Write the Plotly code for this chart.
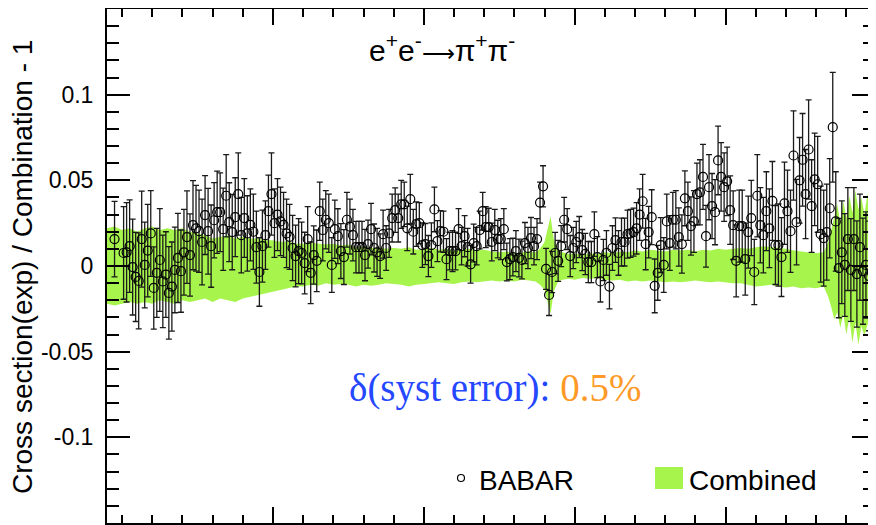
import plotly.graph_objects as go

# ---------------- data ----------------
energy_mev = [
    495, 501, 503, 505, 507, 509, 511, 513, 515, 517, 519, 521, 523, 525, 527, 529, 531, 533, 535, 537,
    539, 541, 543, 545, 547, 549, 551, 553, 555, 557, 559, 561, 563, 565, 567, 569, 571, 573,
    575, 577, 579, 581, 583, 585, 587, 589, 591, 593, 595, 597, 599, 601, 603, 605, 607, 609, 611, 613,
    615, 617, 619, 621, 623, 625, 627, 629, 631, 633, 635, 637, 639, 641, 643, 645, 647, 649, 651, 653,
    655, 657, 659, 661,
    663, 665, 667, 669, 671, 673, 675, 677, 679, 681, 683, 685, 687, 689, 691, 693, 695, 697, 699, 701,
    703, 705, 707, 709, 711, 713, 715, 717, 719, 721, 723, 725, 727, 729, 731, 733, 735, 737, 739, 741,
    743, 745,
    747, 749, 751, 753, 755, 757, 759, 761, 763, 765, 767, 769, 771, 773, 775, 777, 779, 781, 783, 785,
    787, 789, 791, 793, 795, 797, 799, 801, 803, 805, 807, 809, 811, 813, 815, 817, 819, 821, 823, 825, 827,
    829, 831, 833, 835, 837, 839, 841, 843, 845, 847, 849, 851, 853, 855, 857, 859, 861, 863, 865, 867,
    869, 871, 873, 875, 877, 879, 881, 883, 885, 887, 889, 891, 893, 895, 897, 899, 901, 903, 905, 907,
    909, 911, 913,
    915, 917, 919, 921, 923, 925, 927, 929, 931, 933, 935, 937, 939, 941, 943, 945, 947, 949, 951, 953,
    955, 957, 959, 961, 963, 965, 967, 969, 971, 973, 975, 977, 979, 981, 983, 985, 987, 989, 991, 993,
    995, 997,
]

babar_ratio = [
    0.0157, 0.0076, 0.0080, 0.0116, -0.0006, -0.0064, -0.0087, 0.0157, 0.0006, 0.0090, 0.0190, -0.0128,
    -0.0040, 0.0035, -0.0090, -0.0050, -0.0157, -0.0120, -0.0023, 0.0047, -0.0030, 0.0080, 0.0169, 0.0064,
    0.0238, 0.0220, 0.0203, 0.0140, 0.0297, 0.0203, 0.0116, 0.0267, 0.0314, 0.0314, 0.0215, 0.0410, 0.0256,
    0.0198,
    0.0285, 0.0420, 0.0180, 0.0280, 0.0190, 0.0240, 0.0200, 0.0110, -0.0035, 0.0116, 0.0180, 0.0320, 0.0420,
    0.0250, 0.0300, 0.0260, 0.0240, 0.0190, 0.0170, 0.0105, 0.0058, 0.0087, 0.0076, 0.0017, 0.0157, -0.0040,
    0.0064, 0.0030, 0.0320, 0.0210, 0.0270, 0.0250, 0.0006, 0.0215, 0.0174, 0.0087, 0.0052, 0.0270, 0.0230,
    0.0180, 0.0110, 0.0110, 0.0110, 0.0064,
    0.0128, 0.0215, 0.0105, 0.0080, 0.0058, 0.0186, 0.0105, 0.0190, 0.0280, 0.0326, 0.0280, 0.0360, 0.0360,
    0.0220, 0.0390, 0.0200, 0.0244, 0.0250, 0.0122, 0.0128, 0.0058, 0.0122, 0.0330, 0.0145, 0.0203, 0.0200,
    0.0040, 0.0087, 0.0087, 0.0087, 0.0215, 0.0116, 0.0174, 0.0110, 0.0010, 0.0134, 0.0116, 0.0210, 0.0320,
    0.0227, 0.0227, 0.0140,
    0.0210, 0.0157, 0.0157, 0.0215, 0.0023, 0.0040, 0.0052, 0.0087, 0.0047, 0.0035, 0.0134, 0.0105, 0.0163,
    0.0116, 0.0157, 0.0370, 0.0465, -0.0017, -0.0169, -0.0035, 0.0076, 0.0030, 0.0116, 0.0270, 0.0215,
    0.0058, 0.0105, 0.0140, 0.0169, 0.0093, 0.0070, 0.0023, 0.0023, 0.0186, 0.0052, -0.0090, 0.0035, 0.0076,
    -0.0120, 0.0105, 0.0151,
    0.0076, 0.0140, 0.0140, 0.0186, 0.0190, 0.0198, 0.0220, 0.0300, 0.0378, 0.0128, 0.0198, 0.0285, -0.0116,
    -0.0040, 0.0122, 0.0006, 0.0260, 0.0134, 0.0270, 0.0270, 0.0169, 0.0128, 0.0395, 0.0320, 0.0233, 0.0260,
    0.0420, 0.0430, 0.0520, 0.0174, 0.0460, 0.0350, 0.0314, 0.0616, 0.0520, 0.0460, 0.0494, 0.0326, 0.0238,
    0.0030, 0.0233, 0.0233, 0.0040,
    0.0198, 0.0280, -0.0035, 0.0410, 0.0238, 0.0180, 0.0320, 0.0220, 0.0380, 0.0122, 0.0122, 0.0052, 0.0366,
    0.0320, 0.0203, 0.0645, 0.0256, 0.0500, 0.0620, 0.0420, 0.0680, 0.0350, 0.0506, 0.0477, 0.0186, 0.0163,
    0.0198, 0.0337, 0.0810, 0.0260, -0.0012, 0.0080, 0.0006, 0.0157, -0.0023, 0.0157, -0.0047, 0.0110,
    -0.0030, 0.0006, -0.0058, -0.0040,
]

babar_error = [
    0.022, 0.027, 0.029, 0.027, 0.028, 0.026, 0.028, 0.028, 0.025, 0.027, 0.025, 0.024, 0.026, 0.030, 0.027,
    0.025, 0.027, 0.026, 0.025, 0.026, 0.024, 0.025, 0.027, 0.024, 0.026, 0.025, 0.024, 0.025, 0.023, 0.025,
    0.024, 0.022, 0.024, 0.023, 0.024, 0.024, 0.023, 0.022,
    0.023, 0.024, 0.022, 0.023, 0.022, 0.021, 0.022, 0.021, 0.020, 0.021, 0.020, 0.021, 0.024, 0.020, 0.021,
    0.020, 0.019, 0.020, 0.019, 0.019, 0.018, 0.019, 0.018, 0.018, 0.019, 0.018, 0.017, 0.018, 0.017, 0.018,
    0.017, 0.017, 0.016, 0.017, 0.016, 0.016, 0.016, 0.016, 0.016, 0.015, 0.015, 0.015, 0.015, 0.015,
    0.014, 0.015, 0.014, 0.014, 0.013, 0.014, 0.013, 0.014, 0.014, 0.013, 0.014, 0.014, 0.013, 0.013, 0.0145,
    0.013, 0.013, 0.012, 0.013, 0.012, 0.012, 0.013, 0.013, 0.012, 0.012, 0.012, 0.012, 0.011, 0.012, 0.011,
    0.012, 0.011, 0.012, 0.011, 0.011, 0.011, 0.011, 0.011, 0.011, 0.012, 0.011, 0.011,
    0.012, 0.011, 0.012, 0.012, 0.011, 0.012, 0.011, 0.012, 0.011, 0.011, 0.012, 0.012, 0.012, 0.011, 0.012,
    0.012, 0.012, 0.012, 0.012, 0.012, 0.012, 0.012, 0.012, 0.013, 0.012, 0.012, 0.012, 0.012, 0.012, 0.012,
    0.012, 0.012, 0.012, 0.013, 0.012, 0.012, 0.012, 0.013, 0.013, 0.013, 0.013,
    0.013, 0.014, 0.014, 0.014, 0.014, 0.014, 0.015, 0.015, 0.0157, 0.015, 0.015, 0.016, 0.0157, 0.016, 0.016,
    0.016, 0.016, 0.016, 0.016, 0.017, 0.017, 0.017, 0.016, 0.017, 0.017, 0.018, 0.018, 0.019, 0.019, 0.018,
    0.019, 0.019, 0.019, 0.020, 0.020, 0.020, 0.020, 0.020, 0.020, 0.021, 0.021, 0.021, 0.021,
    0.021, 0.022, 0.019, 0.024, 0.022, 0.022, 0.023, 0.023, 0.023, 0.023, 0.024, 0.023, 0.024, 0.024, 0.024,
    0.026, 0.025, 0.025, 0.027, 0.026, 0.029, 0.027, 0.027, 0.028, 0.028, 0.028, 0.028, 0.029, 0.032, 0.029,
    0.029, 0.030, 0.030, 0.030, 0.030, 0.030, 0.031, 0.031, 0.031, 0.031, 0.032, 0.032,
]

band_energy = [
    490, 495, 500, 505, 510, 515, 520, 525, 530, 535, 540, 545, 550, 555, 560, 565, 570, 575, 580, 585,
    590, 595, 600, 605, 610, 615, 620, 625, 630, 635, 640, 645, 650, 655, 660, 665, 670, 675, 680, 685,
    690, 695, 700, 705, 710, 715, 720, 725, 730, 735, 740, 745, 750, 755, 760, 765, 770, 774, 777, 780,
    782, 784, 786, 789, 792, 796, 800, 805, 810, 815, 820, 825, 830, 835, 840, 845, 850, 855, 860, 865,
    870, 875, 880, 885, 890, 895, 900, 905, 910, 915, 920, 925, 930, 935, 940, 945, 950, 955, 960, 965,
    968, 970, 972, 974, 976, 978, 980, 982, 984, 986, 988, 990, 992, 994, 996, 999,
]
band_upper = [
    0.022, 0.023, 0.021, 0.022, 0.020, 0.022, 0.023, 0.021, 0.022, 0.021, 0.022, 0.020, 0.019, 0.018, 0.016,
    0.017, 0.018, 0.016, 0.017, 0.016, 0.016, 0.015, 0.015, 0.014, 0.0145, 0.013, 0.013, 0.0135, 0.013, 0.0125,
    0.013, 0.012, 0.0125, 0.011, 0.0115, 0.0105, 0.011, 0.010, 0.0105, 0.010, 0.011, 0.0095, 0.010, 0.0105,
    0.0095, 0.010, 0.009, 0.0095, 0.010, 0.009, 0.0095, 0.0085, 0.008, 0.0085, 0.0075, 0.008, 0.0085, 0.008,
    0.010, 0.014, 0.022, 0.029, 0.016, 0.009, 0.008, 0.007, 0.0075, 0.0065, 0.0075, 0.007, 0.008, 0.0075,
    0.0085, 0.008, 0.009, 0.0085, 0.0095, 0.009, 0.0085, 0.0095, 0.009, 0.0095, 0.0085, 0.0095, 0.009, 0.010,
    0.0095, 0.010, 0.0105, 0.010, 0.011, 0.0115, 0.011, 0.0105, 0.010, 0.009, 0.0085, 0.008, 0.0075, 0.008,
    0.014, 0.021, 0.028, 0.036, 0.025, 0.038, 0.028, 0.041, 0.031, 0.044, 0.033, 0.040, 0.030, 0.042, 0.036,
    0.034,
]
band_lower = [
    -0.022, -0.023, -0.022, -0.021, -0.022, -0.021, -0.022, -0.020, -0.021, -0.022, -0.020, -0.021, -0.020,
    -0.019, -0.021, -0.019, -0.020, -0.021, -0.019, -0.018, -0.017, -0.016, -0.015, -0.014, -0.013, -0.012,
    -0.012, -0.011, -0.0115, -0.010, -0.011, -0.0105, -0.011, -0.012, -0.011, -0.0115, -0.011, -0.010, -0.0105,
    -0.011, -0.012, -0.011, -0.0105, -0.010, -0.0095, -0.010, -0.0105, -0.0095, -0.009, -0.0095, -0.009,
    -0.0085, -0.009, -0.0085, -0.009, -0.008, -0.0085, -0.009, -0.011, -0.014, -0.021, -0.028, -0.015, -0.009,
    -0.008, -0.0075, -0.008, -0.007, -0.0075, -0.007, -0.008, -0.0085, -0.008, -0.009, -0.0085, -0.009,
    -0.0085, -0.009, -0.0095, -0.009, -0.0095, -0.009, -0.0085, -0.009, -0.0095, -0.009, -0.0095, -0.010,
    -0.010, -0.011, -0.012, -0.0115, -0.011, -0.012, -0.0125, -0.012, -0.013, -0.0125, -0.013, -0.012,
    -0.018, -0.024, -0.031, -0.027, -0.036, -0.028, -0.040, -0.030, -0.045, -0.033, -0.046, -0.035, -0.041,
    -0.034, -0.038, -0.036,
]

y_tick_values = [-0.1, -0.05, 0, 0.05, 0.1]
y_tick_labels = ["-0.1", "-0.05", "0", "0.05", "0.1"]
x_major_ticks = [600, 700, 800, 900]

# ---------------- figure ----------------
# The page body adds an 8 px offset; the figure is sized so the frame lands where the reference has it.
OFF = 8
W, H = 868, 517
ML, MR, MT, MB = 99, 1, 1, 2
PW, PH = W - ML - MR, H - MT - MB


def px(xs):  # screen x (reference pixel) -> paper fraction
    return (xs - OFF - ML) / PW


def py(ys):  # screen y (reference pixel) -> paper fraction
    return (H - MB - (ys - OFF)) / PH


band_color = "#a6f44c"
fig = go.Figure()

fig.add_trace(go.Scatter(
    x=band_energy, y=band_lower, mode="lines", line=dict(width=0, color=band_color),
    hoverinfo="skip", showlegend=False,
))
fig.add_trace(go.Scatter(
    x=band_energy, y=band_upper, mode="lines", line=dict(width=0, color=band_color),
    fill="tonexty", fillcolor=band_color, name="Combined", showlegend=False,
))
fig.add_trace(go.Scatter(
    x=energy_mev, y=babar_ratio, mode="markers", name="BABAR", showlegend=False,
    marker=dict(symbol="circle-open", size=9, color="black", line=dict(width=1.2, color="black")),
    error_y=dict(type="data", array=babar_error, visible=True, color="#1a1a1a", thickness=1.3, width=3),
))

font_sans = "Liberation Sans, Arial, Helvetica, sans-serif"

fig.update_layout(
    width=W, height=H,
    margin=dict(l=ML, r=MR, t=MT, b=MB, pad=0, autoexpand=False),
    paper_bgcolor="white", plot_bgcolor="white",
    font=dict(family=font_sans, color="black"),
    showlegend=False,
    xaxis=dict(
        range=[490, 999], showgrid=False, zeroline=False, showticklabels=False,
        showline=True, linewidth=2, linecolor="black", mirror="ticks",
        ticks="inside", ticklen=16, tickwidth=1.6, tickcolor="black",
        tickmode="array", tickvals=x_major_ticks,
        minor=dict(ticks="inside", ticklen=8, tickwidth=1.6, tickcolor="black", dtick=20, tick0=0,
                   showgrid=False),
    ),
    yaxis=dict(
        range=[-0.15, 0.15], showgrid=False, zeroline=False,
        showline=True, linewidth=2, linecolor="black", mirror="ticks",
        ticks="inside", ticklen=23, tickwidth=1.6, tickcolor="black",
        tickmode="array", tickvals=y_tick_values, ticktext=y_tick_labels,
        tickfont=dict(size=23, family=font_sans, color="black"), ticklabelstandoff=7,
        minor=dict(ticks="inside", ticklen=12, tickwidth=1.6, tickcolor="black", dtick=0.01, tick0=0,
                   showgrid=False),
    ),
)

annotations = [
    dict(text="Cross section(exp) / Combination - 1", textangle=-90,
         x=px(22), y=py(267), xref="paper", yref="paper", xanchor="center", yanchor="middle",
         showarrow=False, font=dict(size=28, family=font_sans, color="black")),
    dict(text='e<sup>+</sup>e<sup>-</sup><span style="font-size:23px">⟶</span>π<sup>+</sup>π<sup>-</sup>',
         x=px(442), y=py(48), xref="paper", yref="paper", xanchor="center", yanchor="middle",
         showarrow=False, font=dict(size=30, family=font_sans, color="black")),
    dict(text='<span style="color:#2447ff">δ(syst error): </span><span style="color:#ff9a28">0.5%</span>',
         x=px(495), y=py(388), xref="paper", yref="paper", xanchor="center", yanchor="middle",
         showarrow=False, font=dict(size=39, family="Liberation Serif, Times New Roman, serif")),
    dict(text="BABAR", x=px(477), y=py(480), xref="paper", yref="paper", xanchor="left",
         yanchor="middle", showarrow=False, font=dict(size=28, family=font_sans, color="black")),
    dict(text="Combined", x=px(687), y=py(480), xref="paper", yref="paper", xanchor="left",
         yanchor="middle", showarrow=False, font=dict(size=28, family=font_sans, color="black")),
]
fig.update_layout(annotations=annotations)

fig.update_layout(shapes=[
    dict(type="circle", xref="paper", yref="paper", x0=px(457.5), x1=px(464.5), y0=py(481.5), y1=py(474.5),
         line=dict(color="black", width=1.2), fillcolor="white"),
    dict(type="rect", xref="paper", yref="paper", x0=px(655), x1=px(683), y0=py(489), y1=py(467),
         line=dict(width=0), fillcolor=band_color),
])

fig.write_html("out.html")
